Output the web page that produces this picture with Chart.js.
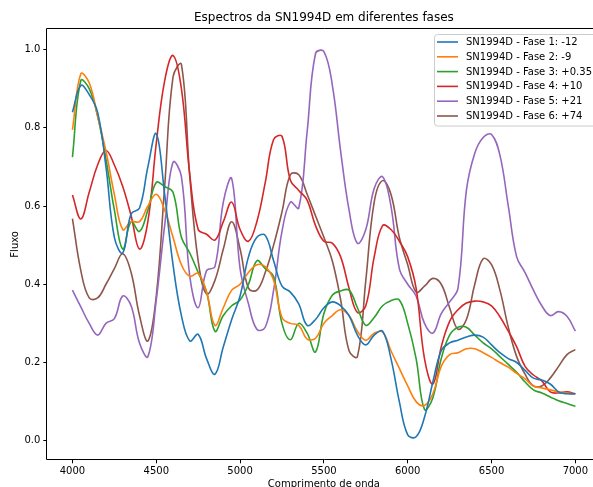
<!DOCTYPE html>
<html>
<head>
<meta charset="utf-8">
<title>Espectros da SN1994D</title>
<script src="https://cdn.jsdelivr.net/npm/chart.js@4.4.0/dist/chart.umd.min.js"></script>
<style>
	html, body { margin: 0; padding: 0; overflow: hidden; background: #fff; }
	canvas { display: block; }
</style>
</head>
<body>
<canvas id="myChart" width="602" height="492"></canvas>
<script>
// SN1994D
// Global variables
let myChart;

// Comprimento de onda (Angstrom)
let comprimentos = [
	4000, 4050, 4100, 4150, 4200, 4250, 4300, 4350, 4400, 4450,
	4500, 4550, 4600, 4650, 4700, 4750, 4800, 4850, 4900, 4950,
	5000, 5050, 5100, 5150, 5200, 5250, 5300, 5350, 5400, 5450,
	5500, 5550, 5600, 5650, 5700, 5750, 5800, 5850, 5900, 5950,
	6000, 6050, 6100, 6150, 6200, 6250, 6300, 6350, 6400, 6450,
	6500, 6550, 6600, 6650, 6700, 6750, 6800, 6850, 6900, 6950,
	7000
];

// Fluxo normalizado de cada fase
let fase1 = [
	0.840, 0.908, 0.885, 0.840, 0.700, 0.520, 0.480, 0.580, 0.595, 0.700,
	0.785, 0.630, 0.450, 0.320, 0.255, 0.272, 0.210, 0.170, 0.240, 0.310,
	0.370, 0.470, 0.520, 0.525, 0.460, 0.395, 0.380, 0.350, 0.295, 0.310,
	0.340, 0.355, 0.345, 0.320, 0.270, 0.245, 0.270, 0.280, 0.210, 0.100,
	0.015, 0.010, 0.060, 0.150, 0.230, 0.250, 0.257, 0.265, 0.270, 0.265,
	0.245, 0.225, 0.210, 0.200, 0.180, 0.160, 0.155, 0.145, 0.125, 0.120,
	0.120
];
let fase2 = [
	0.795, 0.938, 0.915, 0.830, 0.740, 0.630, 0.540, 0.560, 0.560, 0.600,
	0.630, 0.590, 0.520, 0.450, 0.420, 0.428, 0.380, 0.295, 0.340, 0.385,
	0.400, 0.430, 0.450, 0.445, 0.410, 0.315, 0.300, 0.295, 0.260, 0.262,
	0.300, 0.320, 0.335, 0.320, 0.280, 0.257, 0.275, 0.278, 0.230, 0.185,
	0.140, 0.100, 0.090, 0.120, 0.190, 0.220, 0.225, 0.235, 0.235, 0.225,
	0.213, 0.200, 0.188, 0.172, 0.158, 0.140, 0.135, 0.130, 0.125, 0.122,
	0.120
];
let fase3 = [
	0.725, 0.921, 0.900, 0.830, 0.720, 0.590, 0.490, 0.560, 0.535, 0.590,
	0.660, 0.650, 0.635, 0.520, 0.480, 0.430, 0.380, 0.280, 0.320, 0.345,
	0.360, 0.400, 0.460, 0.440, 0.420, 0.300, 0.258, 0.300, 0.275, 0.227,
	0.325, 0.372, 0.383, 0.385, 0.340, 0.295, 0.315, 0.345, 0.358, 0.360,
	0.300, 0.210, 0.080, 0.110, 0.210, 0.270, 0.290, 0.290, 0.270, 0.250,
	0.235, 0.215, 0.195, 0.175, 0.150, 0.130, 0.122, 0.112, 0.102, 0.095,
	0.088
];
let fase4 = [
	0.628, 0.567, 0.635, 0.705, 0.742, 0.705, 0.650, 0.575, 0.490, 0.560,
	0.760, 0.920, 0.985, 0.900, 0.680, 0.540, 0.528, 0.513, 0.560, 0.610,
	0.540, 0.510, 0.560, 0.660, 0.770, 0.778, 0.666, 0.640, 0.615, 0.550,
	0.510, 0.505, 0.470, 0.390, 0.328, 0.345, 0.470, 0.550, 0.540, 0.510,
	0.470, 0.390, 0.210, 0.145, 0.240, 0.305, 0.335, 0.352, 0.357, 0.355,
	0.345, 0.317, 0.280, 0.240, 0.190, 0.168, 0.153, 0.125, 0.122, 0.125,
	0.120
];
let fase5 = [
	0.385, 0.342, 0.300, 0.270, 0.300, 0.312, 0.370, 0.345, 0.250, 0.215,
	0.360, 0.550, 0.712, 0.675, 0.420, 0.340, 0.435, 0.445, 0.610, 0.670,
	0.440, 0.350, 0.285, 0.290, 0.385, 0.535, 0.610, 0.595, 0.790, 0.990,
	0.995, 0.910, 0.740, 0.590, 0.505, 0.540, 0.645, 0.675, 0.600, 0.440,
	0.400, 0.370, 0.300, 0.275, 0.325, 0.355, 0.390, 0.640, 0.735, 0.775,
	0.783, 0.730, 0.600, 0.470, 0.430, 0.385, 0.345, 0.320, 0.330, 0.318,
	0.280
];
let fase6 = [
	0.568, 0.435, 0.365, 0.365, 0.400, 0.440, 0.478, 0.430, 0.320, 0.255,
	0.370, 0.650, 0.930, 0.962, 0.675, 0.460, 0.375, 0.410, 0.490, 0.560,
	0.490, 0.390, 0.385, 0.430, 0.500, 0.585, 0.680, 0.680, 0.630, 0.575,
	0.520, 0.460, 0.360, 0.230, 0.215, 0.410, 0.610, 0.665, 0.630, 0.520,
	0.450, 0.380, 0.395, 0.415, 0.400, 0.340, 0.285, 0.310, 0.400, 0.465,
	0.450, 0.385, 0.290, 0.215, 0.170, 0.140, 0.140, 0.160, 0.190, 0.220,
	0.233
];

let nomesFases = [
	"SN1994D - Fase 1: -12",
	"SN1994D - Fase 2: -9",
	"SN1994D - Fase 3: +0.35",
	"SN1994D - Fase 4: +10",
	"SN1994D - Fase 5: +21",
	"SN1994D - Fase 6: +74"
];
let cores = ["#1f77b4", "#ff7f0e", "#2ca02c", "#d62728", "#9467bd", "#8c564b"];

let ticksX = [4000, 4500, 5000, 5500, 6000, 6500, 7000];
let ticksY = [0.0, 0.2, 0.4, 0.6, 0.8, 1.0];

const fonte = "'DejaVu Sans', sans-serif";

// This function joins wavelengths and flux in {x, y} points
function toPoints(serie) {
	return serie.map((v, i) => ({x: comprimentos[i], y: v}));
}

// This plugin draws the axes frame (left, top and bottom; the right one is off screen)
const moldura = {
	id: 'moldura',
	afterDatasetsDraw(chart) {
		const ctx = chart.ctx;
		const a = chart.chartArea;
		let l = Math.round(a.left) - 0.5;
		let t = Math.round(a.top) - 0.5;
		let b = Math.round(a.bottom) + 0.5;
		ctx.save();
		ctx.strokeStyle = '#000';
		ctx.lineWidth = 1;
		ctx.beginPath();
		ctx.moveTo(chart.width, t);
		ctx.lineTo(l, t);
		ctx.lineTo(l, b);
		ctx.lineTo(chart.width, b);
		ctx.stroke();
		ctx.restore();
	}
};

// This plugin draws the legend inside the plot, upper right
const legendaInterna = {
	id: 'legendaInterna',
	afterDraw(chart) {
		const ctx = chart.ctx;
		ctx.save();
		ctx.fillStyle = 'rgba(255,255,255,0.8)';
		ctx.strokeStyle = '#cccccc';
		ctx.lineWidth = 1;
		ctx.beginPath();
		ctx.roundRect(434.5, 34.5, 200, 91.5, 3);
		ctx.fill();
		ctx.stroke();
		ctx.font = "10px " + fonte;
		ctx.textBaseline = 'middle';
		chart.data.datasets.forEach((ds, i) => {
			let y = 42 + i * 14.8;
			ctx.strokeStyle = ds.borderColor;
			ctx.lineWidth = ds.borderWidth;
			ctx.beginPath();
			ctx.moveTo(437, y);
			ctx.lineTo(458, y);
			ctx.stroke();
			ctx.fillStyle = '#000';
			ctx.fillText(ds.label, 466, y + 0.5);
		});
		ctx.restore();
	}
};

let series = [fase1, fase2, fase3, fase4, fase5, fase6];

const dataChart = {
	datasets: series.map((s, i) => ({
		label: nomesFases[i],
		data: toPoints(s),
		borderColor: cores[i],
		backgroundColor: cores[i],
		borderWidth: 1.6,
		pointRadius: 0,
		tension: 0.4,
		fill: false
	}))
};

const config = {
	type: 'line',
	data: dataChart,
	options: {
		responsive: false,
		animation: false,
		layout: { padding: { left: 0, right: 1.5, top: 0, bottom: 0 } },
		plugins: {
			legend: { display: false },
			tooltip: { enabled: false },
			title: {
				display: true,
				text: 'Espectros da SN1994D em diferentes fases',
				fullSize: false,
				color: '#000',
				font: { family: fonte, size: 12, weight: 'normal' },
				padding: { top: 11, bottom: 4 }
			}
		},
		scales: {
			x: {
				type: 'linear',
				min: 3850,
				max: 7150,
				afterFit: (s) => { s.height = 32.7; },
				afterBuildTicks: (s) => { s.ticks = ticksX.map(v => ({value: v})); },
				border: { display: false },
				grid: { drawOnChartArea: false, drawTicks: true, tickLength: 4, color: '#000' },
				ticks: {
					autoSkip: false, maxRotation: 0, padding: 2, color: '#000',
					font: { family: fonte, size: 10 },
					callback: (v) => String(v)
				},
				title: {
					display: true, text: 'Comprimento de onda', color: '#000',
					font: { family: fonte, size: 10 },
					padding: { top: 0, bottom: 2 }
				}
			},
			y: {
				min: -0.0475,
				max: 1.0516,
				afterFit: (s) => { s.width = 47.3; },
				afterBuildTicks: (s) => { s.ticks = ticksY.map(v => ({value: v})); },
				border: { display: false },
				grid: { drawOnChartArea: false, drawTicks: true, tickLength: 4, color: '#000' },
				ticks: {
					autoSkip: false, padding: 3, color: '#000',
					font: { family: fonte, size: 10 },
					callback: (v) => Number(v).toFixed(1)
				},
				title: {
					display: true, text: 'Fluxo', color: '#000',
					font: { family: fonte, size: 10 },
					padding: { top: 9, bottom: 0 }
				}
			}
		}
	},
	plugins: [moldura, legendaInterna]
};

myChart = new Chart(document.getElementById('myChart'), config);
</script>
</body>
</html>
